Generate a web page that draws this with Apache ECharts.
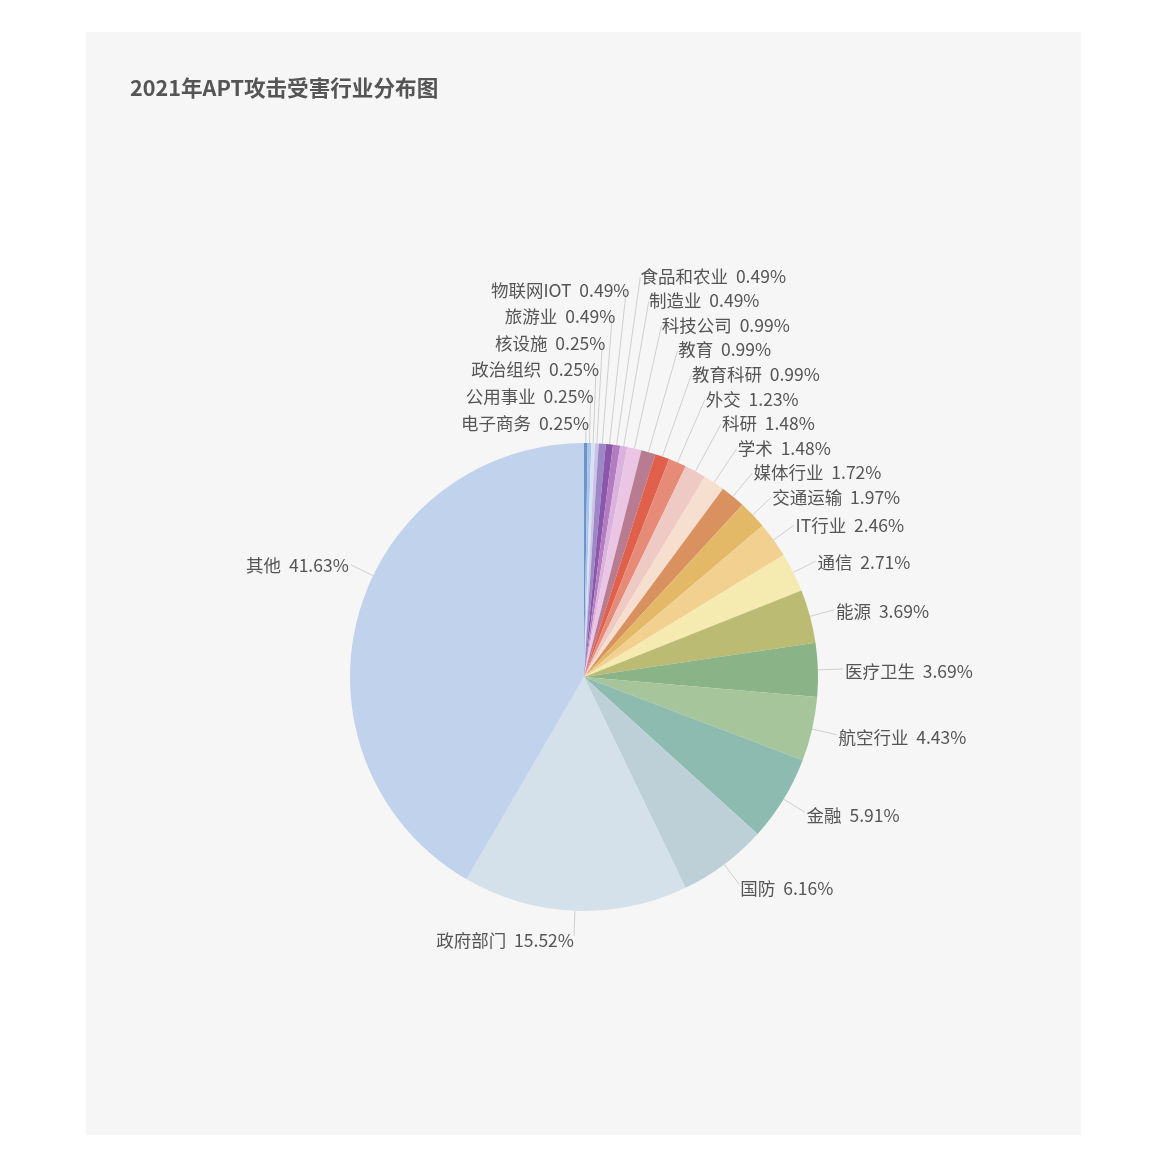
<!DOCTYPE html>
<html lang="zh-CN">
<head>
<meta charset="UTF-8">
<title>2021年APT攻击受害行业分布图</title>
<style type="text/css">
  html, body { margin: 0; padding: 0; background: #fff; }
  #panel {
    position: absolute; left: 86px; top: 32px;
    width: 995px; height: 1103px; background: #f6f6f6;
  }
  #chart { width: 995px; height: 1103px; }
</style>
<script src="https://cdn.jsdelivr.net/npm/echarts@6/dist/echarts.min.js"></script>
</head>
<body>
<div id="panel"><div id="chart"></div></div>
<script type="text/javascript">
// 行业名称（顺时针，从12点方向开始）
var industries = [
  '电子商务', '公用事业', '政治组织', '核设施', '旅游业', '物联网IOT',
  '食品和农业', '制造业', '科技公司', '教育', '教育科研', '外交',
  '科研', '学术', '媒体行业', '交通运输', 'IT行业', '通信',
  '能源', '医疗卫生', '航空行业', '金融', '国防', '政府部门', '其他'
];
// 占比 (%)
var shares = [
  0.25, 0.25, 0.25, 0.25, 0.49, 0.49,
  0.49, 0.49, 0.99, 0.99, 0.99, 1.23,
  1.48, 1.48, 1.72, 1.97, 2.46, 2.71,
  3.69, 3.69, 4.43, 5.91, 6.16, 15.52, 41.63
];
var colors = [
  '#6d94c9', '#a9c5e9', '#d7e3f4', '#cbc2e6', '#9c87c7', '#8b57aa',
  '#b37cc1', '#d9b2de', '#eac6e4', '#b87b90', '#e1604b', '#e68b78',
  '#efc9c4', '#f7dfd0', '#d9925f', '#e3b968', '#f2d08f', '#f5ebb1',
  '#bcbb73', '#8bb388', '#a7c59b', '#8dbbaf', '#bdd0d8', '#d5e1ea', '#c0d2ec'
];

// 版式参数
var cx = 498, cy = 645, R = 234;
var lineLen = 25;        // 引导线长度
var lineLenTop = 19;     // 顶部左侧那一组的起始长度
var leftTopCount = 6;    // 顶部前几个小扇区的标签放到左边
var gapRight = 24.5, gapLeft = 26.6;
var angleNudge = { '其他': 10.6 };   // 标签角度微调（度）

// 计算每个标签的位置：先放在扇区中线上，重叠的往上推，引导线沿径向
function computeLabels() {
  var total = 0, i;
  for (i = 0; i < shares.length; i++) total += shares[i];
  var acc = 0, items = [];
  for (i = 0; i < shares.length; i++) {
    var mid = (acc + shares[i] / 2) / total * 360 + (angleNudge[industries[i]] || 0);
    acc += shares[i];
    var t = mid * Math.PI / 180;
    var side = i < leftTopCount ? 'left' : (Math.sin(t) >= 0 ? 'right' : 'left');
    var len = i < leftTopCount ? lineLenTop : lineLen;
    items.push({ t: t, side: side, ey: cy - Math.cos(t) * (R + len) });
  }
  // 右侧：自下而上推开
  var prev = Infinity;
  for (i = items.length - 1; i >= 0; i--) {
    if (items[i].side !== 'right' || i < leftTopCount) continue;
    items[i].ey = Math.min(items[i].ey, prev - gapRight);
    prev = items[i].ey;
  }
  // 顶部左侧：依次往上叠
  prev = Infinity;
  for (i = 0; i < leftTopCount; i++) {
    items[i].ey = Math.min(items[i].ey, prev - gapLeft);
    prev = items[i].ey;
  }
  for (i = 0; i < items.length; i++) {
    var it = items[i];
    var s = Math.sin(it.t), c = Math.cos(it.t);
    var d = Math.abs(c) > 0.2 ? (cy - it.ey) / c : R + lineLen;
    if (Math.abs(c) <= 0.2) it.ey = cy - c * d;
    it.ex = cx + s * d;
    it.sx = cx + s * R;
    it.sy = cy - c * R;
    it.tx = it.ex + s * 2 + (i < leftTopCount ? 3 : 0);
    it.ty = it.ey + 2 - 3 * c;
    it.align = it.side === 'right' ? 'left' : 'right';
  }
  return items;
}
var placed = computeLabels();

var pieData = [];
for (var i = 0; i < industries.length; i++) {
  pieData.push({ name: industries[i], value: shares[i], itemStyle: { color: colors[i] } });
}

var myChart = echarts.init(document.getElementById('chart'));
var option = {
  backgroundColor: 'transparent',
  animation: false,
  title: {
    text: '2021年APT攻击受害行业分布图',
    left: 39,
    top: 40,
    textStyle: {
      fontFamily: 'Noto Sans CJK SC',
      fontSize: 21.6,
      fontWeight: 'bold',
      color: '#555'
    }
  },
  series: [
    {
      name: '受害行业',
      type: 'pie',
      center: [cx, cy],
      radius: [0, R],
      startAngle: 90,
      clockwise: true,
      data: pieData,
      itemStyle: { borderWidth: 0 },
      label: {
        formatter: function (p) { return p.name + '  ' + p.value.toFixed(2) + '%'; },
        fontFamily: 'Noto Sans CJK SC',
        fontSize: 17.5,
        color: '#555'
      },
      labelLine: {
        length: lineLen,
        length2: 0,
        lineStyle: { color: '#cfcfcf', width: 1 }
      },
      labelLayout: function (params) {
        var p = placed[params.dataIndex];
        return {
          x: p.tx,
          y: p.ty,
          align: p.align,
          verticalAlign: 'middle',
          labelLinePoints: [[p.sx, p.sy], [p.ex, p.ey], [p.ex, p.ey]]
        };
      }
    }
  ]
};
myChart.setOption(option);
</script>
</body>
</html>
